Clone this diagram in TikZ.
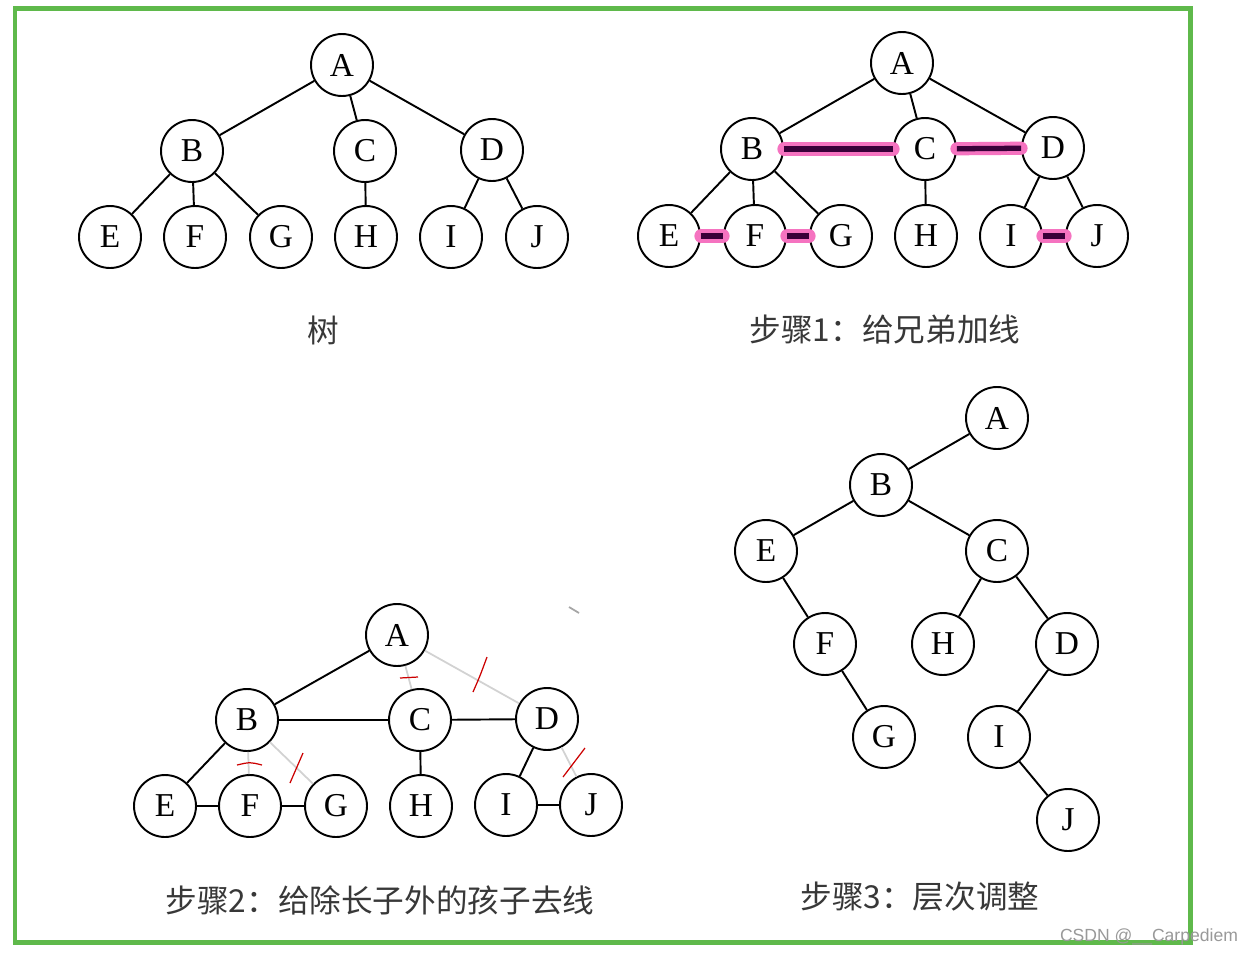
\documentclass[tikz,border=0pt]{standalone}
\usepackage{fontspec}
\setmainfont{Liberation Serif}
\newfontfamily\cjk{Noto Sans CJK SC}
\newfontfamily\wmfont{Liberation Sans}
\usepackage{xcolor}
\definecolor{frameGreen}{RGB}{95,185,75}
\usetikzlibrary{positioning}

\begin{document}
\begin{tikzpicture}[
        x=0.02cm, y=-0.02cm,
        nd/.style={draw, circle, minimum size=1.24cm, inner sep=0pt, line width=1.1pt, font=\fontsize{19}{19}\selectfont},
        ed/.style={line width=1.1pt},
        sib/.style={line width=3pt, draw=violet!45!black, preaction={draw=magenta!55, line width=7.5pt, line cap=round}},
        cutline/.style={line width=1pt, draw=gray!35},
        redmark/.style={line width=0.7pt, draw=red!80!black},
        lbl/.style={font=\cjk\fontsize{18}{18}\selectfont, text=black!78}
    ]
    \useasboundingbox (0,0) rectangle (1248,954);
    \fill[white] (0,0) rectangle (1248,954);
    \draw[frameGreen, line width=0.1cm] (15,8) rectangle (1190,942);

    % Tree
    \node[nd] (a1) at (342,65) {A};
    \node[nd] (b1) at (192,151) {B}; \node[nd] (c1) at (365,151) {C}; \node[nd] (d1) at (492,150) {D};
    \node[nd] (e1) at (110,237) {E}; \node[nd] (f1) at (195,237) {F}; \node[nd] (g1) at (281,237) {G};
    \node[nd] (h1) at (366,237) {H}; \node[nd] (i1) at (451,237) {I}; \node[nd] (j1) at (537,237) {J};
    \node[lbl] (t1) at (323,330) {树};

    \draw[ed] (a1) -- (b1); \draw[ed] (a1) -- (c1); \draw[ed] (a1) -- (d1);
    \draw[ed] (b1) -- (e1); \draw[ed] (b1) -- (f1); \draw[ed] (b1) -- (g1);
    \draw[ed] (c1) -- (h1); \draw[ed] (d1) -- (i1); \draw[ed] (d1) -- (j1);

    % Step 1
    \node[nd] (a2) at (902,63) {A};
    \node[nd] (b2) at (752,149) {B}; \node[nd] (c2) at (925,149) {C}; \node[nd] (d2) at (1053,148) {D};
    \node[nd] (e2) at (669,236) {E}; \node[nd] (f2) at (755,236) {F}; \node[nd] (g2) at (841,236) {G};
    \node[nd] (h2) at (926,236) {H}; \node[nd] (i2) at (1011,236) {I}; \node[nd] (j2) at (1097,236) {J};
    \node[lbl] (t2) at (885,329) {步骤1：给兄弟加线};

    \draw[ed] (a2) -- (b2); \draw[ed] (a2) -- (c2); \draw[ed] (a2) -- (d2);
    \draw[ed] (b2) -- (e2); \draw[ed] (b2) -- (f2); \draw[ed] (b2) -- (g2);
    \draw[ed] (c2) -- (h2); \draw[ed] (d2) -- (i2); \draw[ed] (d2) -- (j2);
    \draw[sib] (b2) -- (c2); \draw[sib] (c2) -- (d2);
    \draw[sib] (e2) -- (f2); \draw[sib] (f2) -- (g2); \draw[sib] (i2) -- (j2);

    % Step 2
    \node[nd] (a3) at (397,635) {A};
    \node[nd] (b3) at (247,720) {B}; \node[nd] (c3) at (420,720) {C}; \node[nd] (d3) at (547,719) {D};
    \node[nd] (e3) at (165,806) {E}; \node[nd] (f3) at (250,806) {F}; \node[nd] (g3) at (336,806) {G};
    \node[nd] (h3) at (421,806) {H}; \node[nd] (i3) at (506,805) {I}; \node[nd] (j3) at (591,805) {J};
    \node[lbl] (t3) at (380,900) {步骤2：给除长子外的孩子去线};

    \draw[ed] (a3) -- (b3); \draw[ed] (b3) -- (c3); \draw[ed] (c3) -- (d3);
    \draw[ed] (b3) -- (e3); \draw[ed] (e3) -- (f3); \draw[ed] (f3) -- (g3);
    \draw[ed] (c3) -- (h3); \draw[ed] (d3) -- (i3); \draw[ed] (i3) -- (j3);
    \draw[cutline] (a3) -- (c3); \draw[cutline] (a3) -- (d3);
    \draw[cutline] (b3) -- (f3); \draw[cutline] (b3) -- (g3); \draw[cutline] (d3) -- (j3);
    \draw[redmark] (400,678) -- (418,677);
    \draw[redmark] (473,692) .. controls (480,676) .. (487,657);
    \draw[redmark] (237,765) .. controls (250,762) .. (262,765);
    \draw[redmark] (290,783) -- (303,753);
    \draw[redmark] (563,777) -- (585,748);
    \draw[line width=1pt, gray!70] (569,607) -- (579,613);

    % Step 3
    \node[nd] (a4) at (997,418) {A};
    \node[nd] (b4) at (881,485) {B};
    \node[nd] (e4) at (766,551) {E}; \node[nd] (c4) at (997,551) {C};
    \node[nd] (f4) at (825,644) {F}; \node[nd] (h4) at (943,644) {H}; \node[nd] (d4) at (1067,644) {D};
    \node[nd] (g4) at (884,737) {G}; \node[nd] (i4) at (999,737) {I};
    \node[nd] (j4) at (1068,820) {J};
    \node[lbl] (t4) at (920,897) {步骤3：层次调整};

    \draw[ed] (a4) -- (b4); \draw[ed] (b4) -- (e4); \draw[ed] (b4) -- (c4);
    \draw[ed] (e4) -- (f4); \draw[ed] (f4) -- (g4); \draw[ed] (c4) -- (h4);
    \draw[ed] (c4) -- (d4); \draw[ed] (d4) -- (i4); \draw[ed] (i4) -- (j4);

    \node[font=\wmfont\fontsize{10}{10}\selectfont, text=gray!80] (wm) at (1149,937) {CSDN @\_\_Carpediem};

    \end{tikzpicture}
\end{document}
